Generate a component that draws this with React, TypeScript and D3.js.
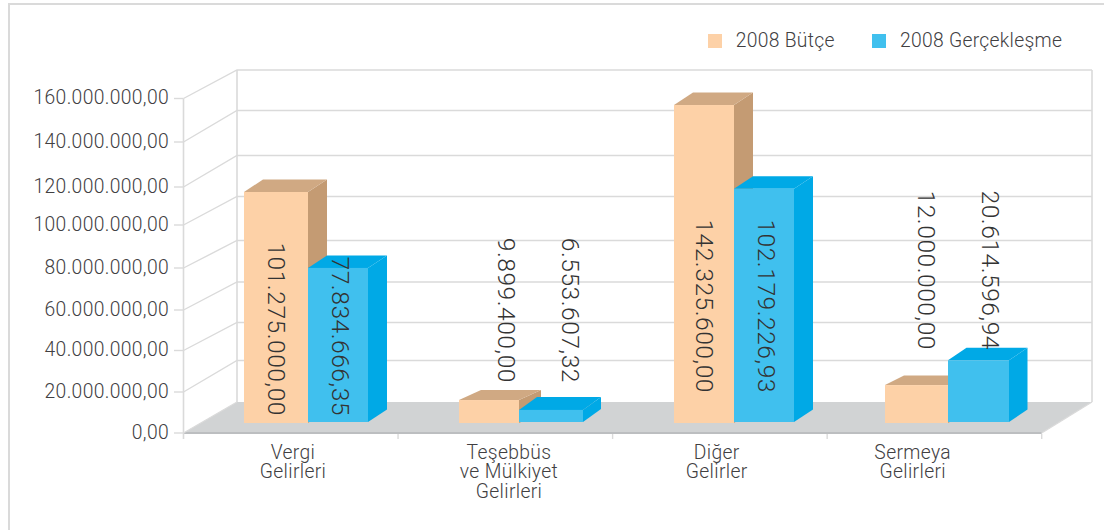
import React from "react";
import * as d3 from "d3";

const categories = [["Vergi", "Gelirleri"], ["Teşebbüs", "ve Mülkiyet", "Gelirleri"], ["Diğer", "Gelirler"], ["Sermeya", "Gelirleri"]];
const seriesNames = ["2008 Bütçe", "2008 Gerçekleşme"];
const tickValues = [0, 20e6, 40e6, 60e6, 80e6, 100e6, 120e6, 140e6, 160e6];
const tickLabels = ["0,00", "20.000.000,00", "40.000.000,00", "60.000.000,00", "80.000.000,00", "100.000.000,00", "120.000.000,00", "140.000.000,00", "160.000.000,00"];
// Heights of the bars as drawn in the picture, read against the axis
const budgetDrawn = [112.1e6, 11.2e6, 152.4e6, 18.5e6];
const actualDrawn = [74.8e6, 5.9e6, 113.3e6, 30e6];
// Printed value labels
const budgetLabels = ["101.275.000,00", "9.899.400,00", "142.325.600,00", "12.000.000,00"];
const actualLabels = ["77.834.666,35", "6.553.607,32", "102.179.226,93", "20.614.596,94"];

// Layout
const FONT = "Roboto, 'Liberation Sans', Arial, sans-serif";
const TEXT = "#414042";
const GRID = "#DADADA";
const X0 = 183.5, X1 = 1041.7, BX0 = 237, BX1 = 1092;
const C = {
  peach: "#FDD1A7", peachSide: "#C49B73", peachTop: "#D0A983",
  blue: "#40C0EE", blueSide: "#00A9E6", blueTop: "#00A9E6",
};
const yFront = d3.scaleLinear().domain(tickValues).range([433, 392, 350.5, 310, 268, 225, 187, 142, 98.5]);
const yBack = d3.scaleLinear().domain(tickValues).range([402, 360.5, 322.5, 282, 240.5, 196.5, 155.5, 110.5, 70]);
const groupX = d3.scaleLinear().domain([0, 1, 2, 3]).range([244, 459, 674, 885]);
const catTick = d3.scaleLinear().domain([0, 4]).range([X0, X1]);
const catCenter = d3.scaleLinear().domain([0, 1, 2, 3]).range([293, 509, 716.7, 912.7]);
const budgetW = [64, 60, 60, 63];
const actualW = [60, 64, 60, 61];
const budgetDx = [19, 22, 19, 19];
const budgetDy = [12.5, 10, 12.5, 9.5];
const actualDx = [19, 18, 19, 18.5];
const actualDy = [12.5, 13, 12.5, 12.5];
const budgetLabelPos = [[268, 416], [498, 383], [696, 393], [918, 350]];
const actualLabelPos = [[331.5, 416], [561.5, 383], [758, 393], [982, 350]];

const poly = (pts: number[][]) => (d3.line()(pts as [number, number][]) as string) + "Z";

function Bar({ x, w, top, bottom, dx, dy, front, side, topC }: any) {
  return (
    <g>
      <path d={poly([[x + w, top], [x + w + dx, top - dy], [x + w + dx, bottom - dy], [x + w, bottom]])} fill={side} />
      <path d={poly([[x, top], [x + dx, top - dy], [x + w + dx, top - dy], [x + w, top]])} fill={topC} />
      <rect x={x} y={top} width={w} height={bottom - top} fill={front} />
    </g>
  );
}

export default function App() {
  return (
    <svg width={1104} height={530} style={{ position: "absolute", left: 0, top: 0, background: "#fff" }} fontFamily={FONT} fontWeight={300}>
      {/* frame */}
      <path d="M9,530V4H1104" fill="none" stroke={GRID} strokeWidth={2} />
      {/* floor */}
      <path d={poly([[X0, 433], [BX0, 402], [BX1, 402], [X1, 433]])} fill="#D1D3D4" />
      <line x1={X0} x2={X1} y1={433} y2={433} stroke="#BCBEC0" strokeWidth={2} />
      {/* walls & grid */}
      {tickValues.map((v, i) => (
        <g key={v} stroke={GRID} strokeWidth={1.4} fill="none">
          {i > 0 && <path d={`M${X0},${yFront(v)}L${BX0},${yBack(v)}H${BX1}`} />}
          <line x1={174} x2={X0} y1={yFront(v)} y2={yFront(v)} />
        </g>
      ))}
      <g stroke={GRID} strokeWidth={1.6}>
        <line x1={X0} x2={X0} y1={yFront(160e6)} y2={439} />
        <line x1={BX0} x2={BX0} y1={yBack(160e6)} y2={402} />
        <line x1={BX1} x2={BX1} y1={yBack(160e6)} y2={402} />
        <line x1={BX1} x2={X1} y1={402} y2={433} strokeWidth={1.2} />
        <line x1={BX0} x2={X0} y1={402} y2={433} strokeWidth={1.2} />
      </g>
      {d3.range(1, 5).map((i) => (
        <line key={i} x1={catTick(i)} x2={catTick(i)} y1={434} y2={439} stroke={GRID} strokeWidth={1.4} />
      ))}
      {/* y labels */}
      {tickValues.map((v, i) => (
        <text key={v} x={169} y={yFront(v) + 5.5} textAnchor="end" fontSize={19.3} letterSpacing={0.35} fill={TEXT}>{tickLabels[i]}</text>
      ))}
      {/* bars */}
      {categories.map((_, i) => {
        const x = groupX(i);
        return (
          <g key={i}>
            <Bar x={x} w={budgetW[i]} top={yFront(budgetDrawn[i]) - 10} bottom={423} dx={budgetDx[i]} dy={budgetDy[i]} front={C.peach} side={C.peachSide} topC={C.peachTop} />
            <Bar x={x + budgetW[i]} w={actualW[i]} top={yFront(actualDrawn[i]) - 11} bottom={422} dx={actualDx[i]} dy={actualDy[i]} front={C.blue} side={C.blueSide} topC={C.blueTop} />
          </g>
        );
      })}
      {/* value labels */}
      {budgetLabels.map((t, i) => (
        <text key={t} transform={`translate(${budgetLabelPos[i][0]},${budgetLabelPos[i][1]}) rotate(90)`} textAnchor="end" fontSize={24.6} letterSpacing={0.5} fill="#333">{t}</text>
      ))}
      {actualLabels.map((t, i) => (
        <text key={t} transform={`translate(${actualLabelPos[i][0]},${actualLabelPos[i][1]}) rotate(90)`} textAnchor="end" fontSize={24.6} letterSpacing={0.5} fill="#333">{t}</text>
      ))}
      {/* category labels */}
      {categories.map((lines, i) => (
        <text key={i} textAnchor="middle" fontSize={19.3} letterSpacing={0.35} fill={TEXT}>
          {lines.map((l, j) => (
            <tspan key={j} x={catCenter(i)} y={459 + j * 19.3}>{l}</tspan>
          ))}
        </text>
      ))}
      {/* legend */}
      <rect x={708} y={34} width={14} height={14} fill={C.peach} />
      <text x={735.7} y={47} fontSize={19.3} letterSpacing={0.3} fill={TEXT}>{seriesNames[0]}</text>
      <rect x={872} y={34} width={14} height={14} fill={C.blue} />
      <text x={900} y={47} fontSize={19.3} letterSpacing={0.3} fill={TEXT}>{seriesNames[1]}</text>
    </svg>
  );
}
